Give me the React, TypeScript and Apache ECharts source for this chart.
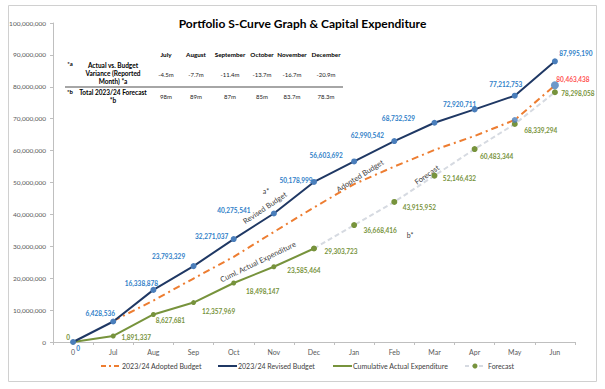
import React, { useEffect, useRef } from "react";
import * as echarts from "echarts";

const categories = ["0", "Jul", "Aug", "Sep", "Oct", "Nov", "Dec", "Jan", "Feb", "Mar", "Apr", "May", "Jun"];
const revisedBudget = [0, 6428536, 16338878, 23793329, 32271037, 40275541, 50178999, 56603692, 62990542, 68732529, 72920711, 77212753, 87995190];
const adoptedBudget = [null, 6600000, 13000000, 19900000, 26700000, 34500000, 42200000, 49500000, 55000000, 60200000, 64600000, 69600000, 80463438];
const adoptedPoints = [null, null, null, null, null, null, null, null, null, null, null, 69600000, 80463438];
const actualExpenditure = [0, 1891337, 8627681, 12357969, 18498147, 23585464, 29303723, null, null, null, null, null, null];
const forecast = [null, null, null, null, null, null, 29303723, 36668416, 43915952, 52146432, 60483344, 68339294, 78298058];

const tableMonths = ["July", "August", "September", "October", "November", "December"];
const varianceRow = ["-4.5m", "-7.7m", "-11.4m", "-13.7m", "-16.7m", "-20.9m"];
const forecastRow = ["98m", "89m", "87m", "85m", "83.7m", "78.3m"];

const legendNames = ["2023/24 Adopted Budget", "2023/24 Revised Budget", "Cumulative Actual Expenditure", "Forecast"];

// label layout shifts (pixels from point centre)
const revisedLabelShift = [[5, 6], [-13, -8], [-12, -6], [-25, -10], [-22, -3], [-40, -3], [-18, -1], [-28, -6], [-27, -6], [-36, -4], [-15, -5], [-9, -11], [21, -8]];
const actualLabelShift = [[-5, -5], [23, 2], [17, 6], [25, 9], [29, 9], [30, 4], [27, 3]];
const forecastLabelShift = [null, null, null, null, null, null, null, [26, 5], [25, 6], [25, 3], [22, 7], [26, 7], [23, 1]];

const FONT = "Lato, 'Liberation Sans', sans-serif";
const NAVY = "#1f3864";
const BLUE_MARK = "#4a7ebb";
const BLUE_LABEL = "#2f80c8";
const GREEN = "#77933c";
const ORANGE = "#ed7d31";
const GREY_DASH = "#d6dae1";

const fmt = (v: number) => v.toLocaleString("en-US");

export default function App() {
  const ref = useRef<HTMLDivElement>(null);
  useEffect(() => {
    if (!ref.current) return;
    const chart = echarts.init(ref.current, undefined, { renderer: "svg" });

    const labelItem = (v: number | null, shift: number[] | null, color: string, show = true) => {
      if (v === null) return null;
      return {
        value: v,
        label: shift && show
          ? { show: true, position: "inside", offset: shift, color, fontSize: 6.5, fontWeight: "bold", fontFamily: FONT, formatter: (p: any) => fmt(p.value) }
          : { show: false },
      };
    };

    const colX = [166, 196, 230, 262, 292, 326];
    const graphic: any[] = [
      { type: "rect", shape: { x: 8.5, y: 5.5, width: 588, height: 376 }, style: { fill: "none", stroke: "#d0d0d0", lineWidth: 1 }, silent: true },
      // table
      ...tableMonths.map((m, i) => ({ type: "text", x: colX[i], y: 54, style: { text: m, fill: "#000", font: `bold 6.3px ${FONT}`, align: "center", verticalAlign: "middle" } })),
      ...varianceRow.map((m, i) => ({ type: "text", x: colX[i], y: 74, style: { text: m, fill: "#222", font: `6px ${FONT}`, align: "center", verticalAlign: "middle" } })),
      ...forecastRow.map((m, i) => ({ type: "text", x: colX[i], y: 96, style: { text: m, fill: "#222", font: `6px ${FONT}`, align: "center", verticalAlign: "middle" } })),
      { type: "text", x: 70, y: 63, style: { text: "*a", fill: "#000", font: `bold 6px ${FONT}`, align: "center", verticalAlign: "middle" } },
      { type: "text", x: 113, y: 65, style: { text: "Actual vs. Budget", fill: "#000", font: `bold 6.5px ${FONT}`, align: "center", verticalAlign: "middle" } },
      { type: "text", x: 113, y: 73, style: { text: "Variance (Reported", fill: "#000", font: `bold 6.5px ${FONT}`, align: "center", verticalAlign: "middle" } },
      { type: "text", x: 113, y: 81, style: { text: "Month) *a", fill: "#000", font: `bold 6.5px ${FONT}`, align: "center", verticalAlign: "middle" } },
      { type: "line", shape: { x1: 65, y1: 87, x2: 343, y2: 87 }, style: { stroke: "#a6a6a6", lineWidth: 2 } },
      { type: "text", x: 70, y: 91, style: { text: "*b", fill: "#000", font: `bold 6px ${FONT}`, align: "center", verticalAlign: "middle" } },
      { type: "text", x: 113, y: 92.5, style: { text: "Total 2023/24 Forecast", fill: "#000", font: `bold 6.5px ${FONT}`, align: "center", verticalAlign: "middle" } },
      { type: "text", x: 113, y: 100, style: { text: "*b", fill: "#000", font: `bold 6.5px ${FONT}`, align: "center", verticalAlign: "middle" } },
      // annotations
      { type: "text", x: 265, y: 208, rotation: (34 * Math.PI) / 180, style: { text: "Revised Budget", fill: "#404040", font: `7.5px ${FONT}`, align: "center", verticalAlign: "middle" } },
      { type: "text", x: 360, y: 176, rotation: (32 * Math.PI) / 180, style: { text: "Adopted Budget", fill: "#404040", font: `7.5px ${FONT}`, align: "center", verticalAlign: "middle" } },
      { type: "text", x: 427, y: 175, rotation: (35 * Math.PI) / 180, style: { text: "Forecast", fill: "#404040", font: `7.5px ${FONT}`, align: "center", verticalAlign: "middle" } },
      { type: "text", x: 258, y: 262, rotation: (26 * Math.PI) / 180, style: { text: "Cuml. Actual Expenditure", fill: "#404040", font: `7.5px ${FONT}`, align: "center", verticalAlign: "middle" } },
      { type: "text", x: 266, y: 191, style: { text: "a*", fill: "#404040", font: `7px ${FONT}`, align: "center", verticalAlign: "middle" } },
      { type: "text", x: 410, y: 235, style: { text: "b*", fill: "#404040", font: `7px ${FONT}`, align: "center", verticalAlign: "middle" } },
      // legend
      { type: "line", shape: { x1: 101, y1: 366, x2: 120, y2: 366 }, style: { stroke: ORANGE, lineWidth: 2, lineDash: [5, 3, 2, 3] } },
      { type: "text", x: 122, y: 366, style: { text: legendNames[0], fill: "#404040", font: `7px ${FONT}`, align: "left", verticalAlign: "middle" } },
      { type: "line", shape: { x1: 218, y1: 366, x2: 237, y2: 366 }, style: { stroke: NAVY, lineWidth: 2 } },
      { type: "text", x: 238, y: 366, style: { text: legendNames[1], fill: "#404040", font: `7px ${FONT}`, align: "left", verticalAlign: "middle" } },
      { type: "line", shape: { x1: 333, y1: 366, x2: 352, y2: 366 }, style: { stroke: GREEN, lineWidth: 2 } },
      { type: "text", x: 353, y: 366, style: { text: legendNames[2], fill: "#404040", font: `7px ${FONT}`, align: "left", verticalAlign: "middle" } },
      { type: "line", shape: { x1: 465, y1: 366, x2: 485, y2: 366 }, style: { stroke: GREY_DASH, lineWidth: 2, lineDash: [4, 3] } },
      { type: "circle", shape: { cx: 475, cy: 366, r: 2.5 }, style: { fill: GREEN } },
      { type: "text", x: 488, y: 366, style: { text: legendNames[3], fill: "#404040", font: `7px ${FONT}`, align: "left", verticalAlign: "middle" } },
    ];

    chart.setOption({
      animation: false,
      backgroundColor: "#fff",
      textStyle: { fontFamily: FONT },
      title: {
        text: "Portfolio S-Curve Graph & Capital Expenditure",
        left: "center",
        top: 12,
        textStyle: { fontSize: 12, fontWeight: "bold", color: "#000", fontFamily: FONT },
      },
      grid: { left: 53, right: 30, top: 23, bottom: 47, containLabel: false },
      xAxis: {
        type: "category",
        data: categories,
        boundaryGap: true,
        axisLine: { lineStyle: { color: "#bfbfbf" } },
        axisTick: { show: true, lineStyle: { color: "#bfbfbf" }, length: 3 },
        axisLabel: { color: "#595959", fontSize: 7, margin: 6, fontFamily: FONT },
        splitLine: { show: false },
      },
      yAxis: {
        type: "value",
        min: 0,
        max: 100000000,
        interval: 10000000,
        axisLine: { show: true, lineStyle: { color: "#bfbfbf" } },
        axisTick: { show: true, length: 3, lineStyle: { color: "#bfbfbf" } },
        axisLabel: { color: "#595959", fontSize: 6.5, margin: 7, fontFamily: FONT, formatter: (v: number) => fmt(v) },
        splitLine: { show: false },
      },
      series: [
        {
          name: legendNames[3],
          type: "line",
          data: forecast.map((v, i) => labelItem(v, forecastLabelShift[i], GREEN)),
          symbol: "circle",
          symbolSize: 6,
          showSymbol: true,
          connectNulls: false,
          lineStyle: { color: GREY_DASH, width: 2, type: [5, 3] },
          itemStyle: { color: GREEN },
          z: 2,
        },
        {
          name: legendNames[0],
          type: "line",
          data: adoptedBudget,
          symbol: "none",
          lineStyle: { color: ORANGE, width: 2, type: [7, 4, 2, 4] },
          itemStyle: { color: ORANGE },
          z: 3,
        },
        {
          name: "Adopted points",
          type: "scatter",
          data: adoptedPoints.map((v, i) =>
            v === null
              ? null
              : {
                  value: v,
                  symbolSize: i === 12 ? 8 : 6,
                  label: i === 12
                    ? { show: true, position: "inside", offset: [18, -6], color: "#ff2020", fontSize: 6.5, fontWeight: "bold", fontFamily: FONT, formatter: (p: any) => fmt(p.value) }
                    : { show: false },
                }
          ),
          symbol: "circle",
          itemStyle: { color: BLUE_MARK },
          z: 4,
        },
        {
          name: legendNames[2],
          type: "line",
          data: actualExpenditure.map((v, i) => labelItem(v, actualLabelShift[i] || null, GREEN)),
          symbol: "circle",
          symbolSize: 5,
          lineStyle: { color: GREEN, width: 2 },
          itemStyle: { color: GREEN },
          z: 5,
        },
        {
          name: legendNames[1],
          type: "line",
          data: revisedBudget.map((v, i) => labelItem(v, revisedLabelShift[i], BLUE_LABEL)),
          symbol: "circle",
          symbolSize: 6,
          lineStyle: { color: NAVY, width: 2 },
          itemStyle: { color: BLUE_MARK },
          z: 6,
        },
      ],
      graphic,
    });
    return () => chart.dispose();
  }, []);
  return <div ref={ref} style={{ position: "absolute", left: 0, top: 0, width: 605, height: 389, background: "#fff" }} />;
}
